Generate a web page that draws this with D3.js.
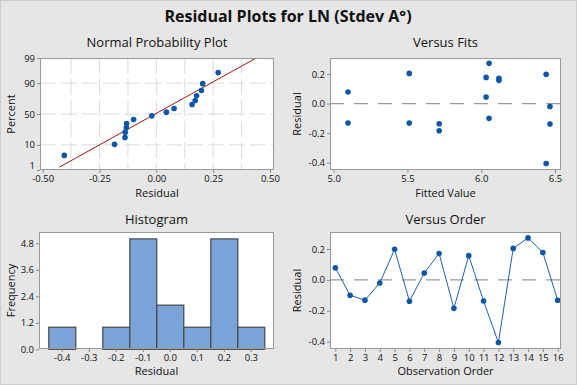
<!DOCTYPE html>
<html>
<head>
<meta charset="utf-8">
<script src="https://cdn.jsdelivr.net/npm/d3@7"></script>
<style>
html,body{margin:0;padding:0;background:#e6e6e6;}
svg{display:block;font-family:"Open Sans","Noto Sans",sans-serif;}
</style>
</head>
<body>
<svg id="chart" width="577" height="385"></svg>
<script>
// ---------- data ----------
const observations = [1,2,3,4,5,6,7,8,9,10,11,12,13,14,15,16];
const residuals    = [0.078,-0.100,-0.131,-0.020,0.198,-0.138,0.044,0.171,-0.184,0.157,-0.137,-0.405,0.204,0.272,0.177,-0.132];
const fittedValues = [5.097,6.053,5.097,6.466,6.440,6.466,6.033,6.120,5.715,6.120,5.715,6.440,5.512,6.053,6.033,5.512];
const probPercents = [4.27,10.37,16.46,22.56,28.66,34.76,40.85,46.95,53.05,59.15,65.24,71.34,77.44,83.54,89.63,95.73];
const histBins     = [-0.4,-0.3,-0.2,-0.1,0.0,0.1,0.2,0.3];
const histFreq     = [1,0,1,5,2,1,5,1];
const fitLineMean  = -0.005, fitLineSd = 0.191;
const fitLinePct   = [1.37, 99];
const probXTicks   = [-0.5,-0.25,0,0.25,0.5];
const probXGrid    = [-0.375,-0.125,0.125,0.375,-0.25,0,0.25];
const probYTicks   = [1,10,50,90,99];
const probYGrid    = [10,50,90];
const fitsXTicks   = [5.0,5.5,6.0,6.5];
const residTicks   = [0.2,0.0,-0.2,-0.4];
const histYTicks   = [0,1.2,2.4,3.6,4.8];

// inverse standard normal (Acklam)
function qnorm(p){
  const a=[-3.969683028665376e+01,2.209460984245205e+02,-2.759285104469687e+02,1.383577518672690e+02,-3.066479806614716e+01,2.506628277459239e+00];
  const b=[-5.447609879822406e+01,1.615858368580409e+02,-1.556989798598866e+02,6.680131188771972e+01,-1.328068155288572e+01];
  const c=[-7.784894002430293e-03,-3.223964580411365e-01,-2.400758277161838e+00,-2.549732539343734e+00,4.374664141464968e+00,2.938163982698783e+00];
  const d=[7.784695709041462e-03,3.224671290700398e-01,2.445134137142996e+00,3.754408661907416e+00];
  const pl=0.02425;let q,r;
  if(p<pl){q=Math.sqrt(-2*Math.log(p));return (((((c[0]*q+c[1])*q+c[2])*q+c[3])*q+c[4])*q+c[5])/((((d[0]*q+d[1])*q+d[2])*q+d[3])*q+1);}
  if(p>1-pl){q=Math.sqrt(-2*Math.log(1-p));return -(((((c[0]*q+c[1])*q+c[2])*q+c[3])*q+c[4])*q+c[5])/((((d[0]*q+d[1])*q+d[2])*q+d[3])*q+1);}
  q=p-0.5;r=q*q;return (((((a[0]*r+a[1])*r+a[2])*r+a[3])*r+a[4])*r+a[5])*q/(((((b[0]*r+b[1])*r+b[2])*r+b[3])*r+b[4])*r+1);
}

const svg = d3.select("#chart");
const TXT = "#111";
const DOT = "#0a56a8";

svg.append("rect").attr("x",0.5).attr("y",0.5).attr("width",576).attr("height",384)
  .attr("fill","#e6e6e6").attr("stroke","#cdcdcd");

svg.append("text").attr("x",288).attr("y",22).attr("text-anchor","middle")
  .attr("font-size",16).attr("font-weight","bold").attr("fill",TXT)
  .text("Residual Plots for LN (Stdev A°)");

function panel(box, title, xlab, ylab, titleY, xlabY, ylabX){
  const g = svg.append("g");
  g.append("rect").attr("x",box.x0).attr("y",box.y0).attr("width",box.x1-box.x0).attr("height",box.y1-box.y0)
    .attr("fill","#fff");
  g.append("text").attr("x",(box.x0+box.x1)/2).attr("y",titleY).attr("text-anchor","middle")
    .attr("font-size",13).attr("fill",TXT).text(title);
  g.append("text").attr("x",(box.x0+box.x1)/2).attr("y",xlabY).attr("text-anchor","middle")
    .attr("font-size",11).attr("fill",TXT).text(xlab);
  g.append("text").attr("transform",`translate(${ylabX},${(box.y0+box.y1)/2}) rotate(-90)`)
    .attr("text-anchor","middle").attr("font-size",11).attr("fill",TXT).text(ylab);
  return g;
}
function frame(g, box){
  g.append("rect").attr("x",box.x0+0.5).attr("y",box.y0+0.5).attr("width",box.x1-box.x0-1).attr("height",box.y1-box.y0-1)
    .attr("fill","none").attr("stroke","#9a9a9a");
}
function styleAxis(sel){
  sel.select(".domain").remove();
  sel.selectAll(".tick line").attr("stroke","#8a8a8a");
  sel.selectAll(".tick text").attr("font-size",9.5).attr("fill",TXT).attr("font-family","'Open Sans',sans-serif");
}

// ---------- Panel 1: Normal probability plot ----------
{
  const box={x0:40,y0:58,x1:274,y1:170};
  const g = panel(box,"Normal Probability Plot","Residual","Percent",47,197,15);
  const x = d3.scaleLinear().domain([-0.5,0.5]).range([42.7,270]);
  const y = d3.scaleLinear().domain([qnorm(0.01),qnorm(0.99)]).range([box.y1,box.y0]);
  const yp = p => y(qnorm(p/100));
  g.selectAll("line.vg").data(probXGrid).enter().append("line")
    .attr("x1",d=>x(d)).attr("x2",d=>x(d)).attr("y1",box.y0).attr("y2",box.y1)
    .attr("stroke","#dcdcdc").attr("stroke-dasharray","16,5");
  g.selectAll("line.hg").data(probYGrid).enter().append("line")
    .attr("x1",box.x0).attr("x2",box.x1).attr("y1",d=>yp(d)).attr("y2",d=>yp(d))
    .attr("stroke","#dcdcdc").attr("stroke-dasharray","16,5");
  // fitted line
  const z0=qnorm(fitLinePct[0]/100), z1=qnorm(fitLinePct[1]/100);
  g.append("line").attr("x1",x(fitLineMean+fitLineSd*z0)).attr("y1",y(z0))
    .attr("x2",x(fitLineMean+fitLineSd*z1)).attr("y2",y(z1))
    .attr("stroke","#a01818").attr("stroke-width",1);
  const sorted = residuals.slice().sort(d3.ascending);
  g.selectAll("circle").data(sorted).enter().append("circle")
    .attr("cx",d=>x(d)).attr("cy",(d,i)=>yp(probPercents[i])).attr("r",2.8).attr("fill",DOT);
  frame(g,box);
  const ax = g.append("g").attr("transform",`translate(0,${box.y1})`)
    .call(d3.axisBottom(x).tickValues(probXTicks).tickFormat(d3.format(".2f")).tickSize(3).tickPadding(2));
  styleAxis(ax);
  ax.selectAll(".tick text").text(d=>d3.format(".2f")(d).replace("−","-"));
  const ay = g.append("g").attr("transform",`translate(${box.x0},0)`)
    .call(d3.axisLeft(d3.scaleLinear().domain(y.domain()).range(y.range()))
      .tickValues(probYTicks.map(p=>qnorm(p/100))).tickFormat((d,i)=>probYTicks[i]).tickSize(3).tickPadding(2));
  styleAxis(ay);
  // lowest label sits just above the x tick labels, as in the reference
  ay.selectAll(".tick text").filter((d,i)=>i===0).attr("dy","-0.15em");
}

// ---------- Panel 2: Versus fits ----------
{
  const box={x0:330,y0:58,x1:561,y1:170};
  const g = panel(box,"Versus Fits","Fitted Value","Residual",47,197,301);
  const x = d3.scaleLinear().domain([5.0,6.5]).range([333.7,555]);
  const y = d3.scaleLinear().domain([-0.4,0.2]).range([162.7,74]);
  g.append("line").attr("x1",box.x0).attr("x2",box.x1).attr("y1",y(0)).attr("y2",y(0))
    .attr("stroke","#9a9a9a").attr("stroke-width",1.2).attr("stroke-dasharray","14,10");
  g.selectAll("circle").data(observations).enter().append("circle")
    .attr("cx",(d,i)=>x(fittedValues[i])).attr("cy",(d,i)=>y(residuals[i])).attr("r",2.8).attr("fill",DOT);
  frame(g,box);
  const ax = g.append("g").attr("transform",`translate(0,${box.y1})`)
    .call(d3.axisBottom(x).tickValues(fitsXTicks).tickFormat(d3.format(".1f")).tickSize(3).tickPadding(2));
  styleAxis(ax);
  const ay = g.append("g").attr("transform",`translate(${box.x0},0)`)
    .call(d3.axisLeft(y).tickValues(residTicks).tickFormat(d=>d3.format(".1f")(d).replace("−","-")).tickSize(3).tickPadding(2));
  styleAxis(ay);
}

// ---------- Panel 3: Histogram ----------
{
  const box={x0:39,y0:232,x1:274,y1:349};
  const g = panel(box,"Histogram","Residual","Frequency",224,375,15);
  const x = d3.scaleLinear().domain([-0.45,0.35]).range([48.3,264.3]);
  const y = d3.scaleLinear().domain([0,4.8]).range([349.3,243.3]);
  g.selectAll("rect.bar").data(histBins).enter().append("rect")
    .attr("x",d=>x(d-0.05)+0.5).attr("width",d=>x(d+0.05)-x(d-0.05))
    .attr("y",(d,i)=>y(histFreq[i])).attr("height",(d,i)=>y(0)-y(histFreq[i]))
    .attr("fill","#7ba4d8").attr("stroke","#474747").attr("stroke-width",1.2);
  frame(g,box);
  const ax = g.append("g").attr("transform",`translate(0,${box.y1})`)
    .call(d3.axisBottom(x).tickValues(histBins).tickFormat(d=>d3.format(".1f")(d).replace("−","-")).tickSize(3).tickPadding(2));
  styleAxis(ax);
  const ay = g.append("g").attr("transform",`translate(${box.x0},0)`)
    .call(d3.axisLeft(y).tickValues(histYTicks).tickFormat(d3.format(".1f")).tickSize(3).tickPadding(2));
  styleAxis(ay);
}

// ---------- Panel 4: Versus order ----------
{
  const box={x0:330,y0:232,x1:561,y1:349};
  const g = panel(box,"Versus Order","Observation Order","Residual",224,375,301);
  const x = d3.scaleLinear().domain([1,16]).range([335.3,557.7]);
  const y = d3.scaleLinear().domain([-0.4,0.2]).range([341.7,249]);
  g.append("line").attr("x1",box.x0).attr("x2",box.x1).attr("y1",y(0)).attr("y2",y(0))
    .attr("stroke","#9a9a9a").attr("stroke-width",1.2).attr("stroke-dasharray","14,10");
  const line = d3.line().x((d,i)=>x(observations[i])).y(d=>y(d));
  g.append("path").datum(residuals).attr("d",line).attr("fill","none").attr("stroke","#1d5fb0").attr("stroke-width",1);
  g.selectAll("circle").data(residuals).enter().append("circle")
    .attr("cx",(d,i)=>x(observations[i])).attr("cy",d=>y(d)).attr("r",2.8).attr("fill",DOT);
  frame(g,box);
  const ax = g.append("g").attr("transform",`translate(0,${box.y1})`)
    .call(d3.axisBottom(x).tickValues(observations).tickFormat(d3.format("d")).tickSize(3).tickPadding(2));
  styleAxis(ax);
  const ay = g.append("g").attr("transform",`translate(${box.x0},0)`)
    .call(d3.axisLeft(y).tickValues(residTicks).tickFormat(d=>d3.format(".1f")(d).replace("−","-")).tickSize(3).tickPadding(2));
  styleAxis(ay);
}
</script>
</body>
</html>
